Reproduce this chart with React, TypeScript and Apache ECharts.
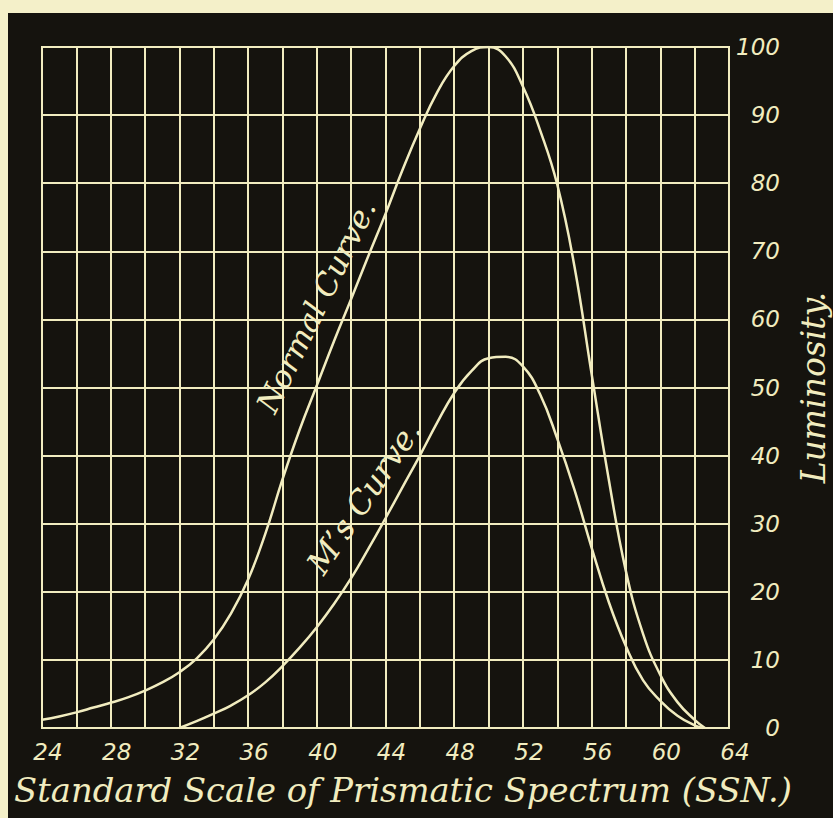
import React, { useEffect, useRef } from "react";
import * as echarts from "echarts";

// Standard Scale of Prismatic Spectrum (SSN) positions and luminosity readings
const normalSSN = [24, 25, 26, 27, 28, 29, 30, 31, 32, 33, 34, 35, 36, 37, 38, 39, 40, 41, 42, 43, 44, 45, 46, 47, 48, 49, 50, 51, 52, 53, 54, 55, 56, 57, 58, 59, 60, 61, 62, 62.6];
const normalLum = [1.2, 1.7, 2.3, 3, 3.7, 4.5, 5.5, 6.7, 8.2, 10.2, 13, 16.8, 21.8, 28.5, 36.5, 43.8, 50.3, 56.8, 63, 69.3, 75.5, 82, 88, 93.3, 97.2, 99.4, 100, 98.6, 94.2, 87.8, 79.8, 67.8, 52, 36.5, 23, 13.8, 7.8, 3.8, 1.2, 0];

const msSSN = [32, 33, 34, 35, 36, 37, 38, 39, 40, 41, 42, 43, 44, 45, 46, 47, 48, 49, 50, 51, 52, 53, 54, 55, 56, 57, 58, 59, 60, 61, 62, 62.5];
const msLum = [0, 1, 2.1, 3.3, 4.8, 6.7, 9.1, 11.8, 14.8, 18.2, 22, 26.3, 30.8, 35.4, 40, 44.8, 49.2, 52.4, 54.3, 54.5, 53.1, 49, 42.5, 35, 26.5, 18.5, 12, 7, 4, 1.8, 0.4, 0];

const xMin = 24;
const xMax = 64;
const yMin = 0;
const yMax = 100;

const CREAM = "#f1ecbf";
const PANEL = "#15130e";
const PAGE = "#f4f0c9";

const App: React.FC = () => {
  const ref = useRef<HTMLDivElement>(null);

  useEffect(() => {
    if (!ref.current) return;
    const chart = echarts.init(ref.current, undefined, { renderer: "svg" });
    const toPairs = (xs: number[], ys: number[]) => xs.map((x, i) => [x, ys[i]]);
    chart.setOption({
      animation: false,
      backgroundColor: "transparent",
      grid: {
        left: 42,
        top: 47,
        right: 104,
        bottom: 90,
        show: true,
        borderColor: CREAM,
        borderWidth: 2,
        backgroundColor: "transparent",
        containLabel: false,
        outerBoundsMode: "none",
      },
      xAxis: {
        type: "value",
        min: xMin,
        max: xMax,
        interval: 2,
        axisLine: { show: true, lineStyle: { color: CREAM, width: 2 } },
        axisTick: { show: false },
        splitLine: { show: true, lineStyle: { color: CREAM, width: 2 } },
        axisLabel: {
          formatter: (v: number) => (v % 4 === 0 ? String(v) : ""),
          color: CREAM,
          fontFamily: "DejaVu Sans",
          fontStyle: "italic",
          fontSize: 23,
          margin: 12,
          padding: [0, 0, 0, 12],
        },
      },
      yAxis: {
        type: "value",
        position: "right",
        min: yMin,
        max: yMax,
        interval: 10,
        axisLine: { show: true, lineStyle: { color: CREAM, width: 2 } },
        axisTick: { show: false },
        splitLine: { show: true, lineStyle: { color: CREAM, width: 2 } },
        axisLabel: {
          color: CREAM,
          fontFamily: "DejaVu Sans",
          fontStyle: "italic",
          fontSize: 23,
          align: "right",
          margin: 51,
        },
        name: "Luminosity.",
        nameLocation: "middle",
        nameRotate: 90,
        nameGap: 68,
        nameTextStyle: {
          color: CREAM,
          fontFamily: "DejaVu Serif",
          fontStyle: "italic",
          fontSize: 33,
        },
      },
      series: [
        {
          name: "Normal Curve",
          type: "line",
          data: toPairs(normalSSN, normalLum),
          showSymbol: false,
          smooth: 0.45,
          lineStyle: { color: CREAM, width: 2.5 },
          z: 5,
        },
        {
          name: "M's Curve",
          type: "line",
          data: toPairs(msSSN, msLum),
          showSymbol: false,
          smooth: 0.45,
          lineStyle: { color: CREAM, width: 2.5 },
          z: 5,
        },
      ],
      graphic: [
        {
          type: "text",
          left: 14,
          top: 773,
          style: {
            text: "Standard Scale of Prismatic Spectrum (SSN.)",
            fill: CREAM,
            font: 'italic 33.8px "DejaVu Serif"',
          },
        },
        {
          type: "text",
          x: 316,
          y: 306,
          rotation: (64 * Math.PI) / 180,
          style: {
            text: "Normal Curve.",
            fill: CREAM,
            font: 'italic 31px "DejaVu Serif"',
            align: "center",
            verticalAlign: "middle",
            textAlign: "center",
            textVerticalAlign: "middle",
          },
        },
        {
          type: "text",
          x: 364,
          y: 497,
          rotation: (56 * Math.PI) / 180,
          style: {
            text: "M\u2019s Curve.",
            fill: CREAM,
            font: 'italic 32px "DejaVu Serif"',
            align: "center",
            verticalAlign: "middle",
            textAlign: "center",
            textVerticalAlign: "middle",
          },
        },
      ],
    });
    return () => chart.dispose();
  }, []);

  return (
    <div style={{ position: "fixed", left: 0, top: 0, width: 833, height: 818, background: PAGE, overflow: "hidden" }}>
      <div style={{ position: "absolute", left: 8, top: 13, width: 825, height: 805, background: PANEL }} />
      <div ref={ref} style={{ position: "absolute", left: 0, top: 0, width: 833, height: 818 }} />
    </div>
  );
};

export default App;
